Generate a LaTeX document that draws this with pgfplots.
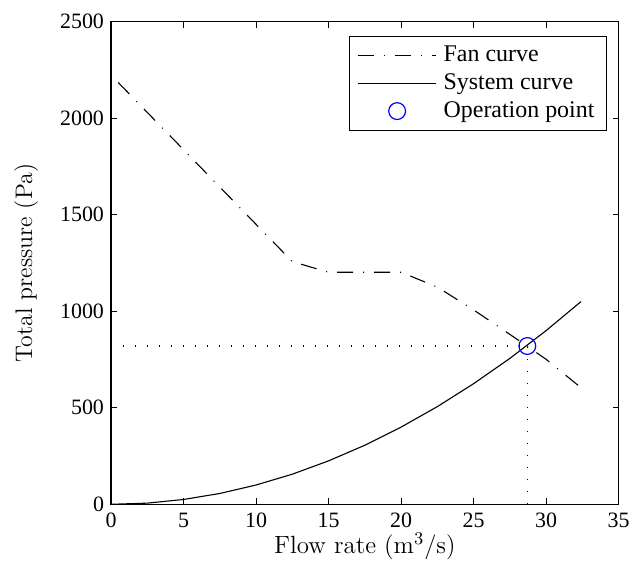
\documentclass[border=0pt]{standalone}
\usepackage{fontspec}
\newfontfamily\timesfont{Liberation Serif}
\usepackage{pgfplots}
\pgfplotsset{compat=1.18}

% fan characteristic and system resistance curve
\pgfplotstableread{
q     p
0.5   2185
12.5  1257
15    1202
20    1202
22.5  1125
25    1007
27.5  880
30    751
32.5  598
}\fancurve

\pgfplotstableread{
q     p
0     0
2.5   6
5     25
7.5   56
10    100
12.5  156
15    225
17.5  306
20    400
22.5  506
25    625
27.5  756
30    900
32.4  1050
}\syscurve

\begin{document}
\begin{tikzpicture}
\begin{axis}[
  scale only axis,
  width=253.85bp, height=241.3bp,
  xmin=0, xmax=35, ymin=0, ymax=2500,
  xtick={0,5,...,35}, ytick={0,500,...,2500},
  tick align=inside, major tick length=3bp,
  axis line style={line width=0.7bp},
  every tick/.style={black, line width=0.5bp},
  tick label style={font=\timesfont\fontsize{11}{13}\selectfont},
  xticklabel style={yshift=-1bp},
  /pgf/number format/assume math mode=true,
  scaled ticks=false, /pgf/number format/1000 sep={},
  xlabel={Flow rate (m$^3$/s)},
  ylabel={Total pressure (Pa)},
  every axis x label/.style={at={(axis description cs:0.5,-0.087)}, anchor=center, font=\fontsize{12.5}{14}\selectfont},
  every axis y label/.style={at={(axis description cs:-0.167,0.5)}, rotate=90, anchor=center, font=\fontsize{12}{14}\selectfont},
  legend style={at={(axis description cs:1,1)}, xshift=-5.85bp, yshift=-7bp,
    anchor=north east, draw=black, line width=0.6bp,
    font=\timesfont\fontsize{12}{14}\selectfont,
    cells={anchor=west}, inner xsep=4bp, inner ysep=3bp, row sep=0.5bp, column sep=1.5bp},
  legend image code/.code={\draw[mark repeat=2, mark phase=2, #1] plot coordinates {(0bp,0bp) (19.5bp,0bp) (39bp,0bp)};},
]
\addplot[black, line width=0.55bp, dash pattern=on 8bp off 5bp on 0.5bp off 5bp] table[x=q, y=p] {\fancurve};
\addlegendentry{Fan curve}
\addplot[black, line width=0.55bp] table[x=q, y=p] {\syscurve};
\addlegendentry{System curve}
\addplot[only marks, mark=o, mark size=4.2bp, blue, mark options={line width=0.6bp}] coordinates {(28.7,820)};
\addlegendentry{Operation point}
\addplot[black, line width=0.6bp, dash pattern=on 0.6bp off 5.4bp, forget plot] coordinates {(0,820) (28.7,820)};
\addplot[black, line width=0.6bp, dash pattern=on 0.6bp off 5.4bp, forget plot] coordinates {(28.7,0) (28.7,820)};
\end{axis}
\pgfresetboundingbox
\path[use as bounding box] (-55.5bp,-36.35bp) rectangle (259.5bp,252.15bp);
\end{tikzpicture}
\end{document}
